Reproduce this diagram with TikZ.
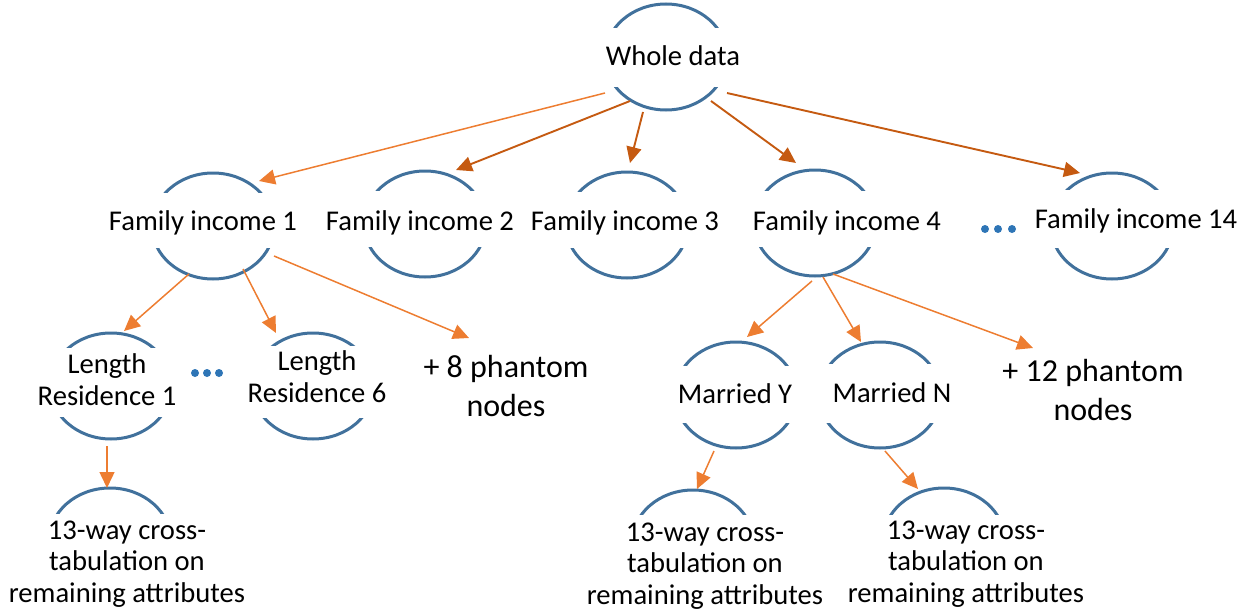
\documentclass[tikz,border=0pt]{standalone}
\usepackage{fontspec}
\setmainfont{Carlito}
\usetikzlibrary{calc,arrows.meta,shapes.geometric}
\definecolor{arcblue}{RGB}{65,113,156}
\definecolor{lightor}{RGB}{237,125,49}
\definecolor{darkor}{RGB}{197,90,17}
\definecolor{dotblue}{RGB}{46,117,182}
\tikzset{
  oval/.style={shape=ellipse, draw=none, inner sep=0pt, minimum width=122pt, minimum height=106pt},
  arcline/.style={draw=arcblue, line width=3pt},
  txt/.style={inner sep=0pt, font=\fontsize{28.6}{31.5}\selectfont, align=center, anchor=base},
  phantom/.style={inner sep=0pt, font=\fontsize{32}{39}\selectfont, align=center, anchor=base},
  lt/.style={draw=lightor, line width=1.5pt, -{Triangle[length=16pt,width=15pt]}},
  dk/.style={draw=darkor, line width=1.9pt, -{Triangle[length=16pt,width=15pt]}},
  dot/.style={fill=dotblue}
}
\newcommand\ovalarcs[3]{%
  \begin{scope}
    \clip ($(#1.center)+(-70,-60)$) rectangle ($(#1.center)+(70,-#2)$);
    \draw[arcline] (#1.center) ellipse [x radius=61, y radius=53];
  \end{scope}
  \begin{scope}
    \clip ($(#1.center)+(-70,#3)$) rectangle ($(#1.center)+(70,60)$);
    \draw[arcline] (#1.center) ellipse [x radius=61, y radius=53];
  \end{scope}}
\begin{document}
\begin{tikzpicture}[x=1pt,y=-1pt]
\useasboundingbox (0,0) rectangle (1251,613);
% oval nodes
\node[oval] (wd) at (666,57) {};
\node[oval] (f1) at (213,226) {};
\node[oval] (f2) at (425,224) {};
\node[oval] (f3) at (627,225) {};
\node[oval] (f4) at (815,223) {};
\node[oval] (f14) at (1112,226) {};
\node[oval] (l1) at (111,386) {};
\node[oval] (l6) at (313,386) {};
\node[oval] (my) at (736,395) {};
\node[oval] (mn) at (880,395) {};
\node[oval] (tl) at (110,541) {};
\node[oval] (tm) at (693,543) {};
\node[oval] (tr) at (944,541) {};
% arcs
\ovalarcs{wd}{30}{30}
\ovalarcs{f1}{34}{22}
\ovalarcs{f2}{34}{23}
\ovalarcs{f3}{34}{23}
\ovalarcs{f4}{33}{24}
\ovalarcs{f14}{37}{22}
\ovalarcs{l1}{39}{31}
\ovalarcs{l6}{41}{32}
\ovalarcs{my}{30}{28}
\ovalarcs{mn}{32}{28}
\ovalarcs{tl}{28}{70}
\ovalarcs{tm}{29}{70}
\ovalarcs{tr}{27}{70}
% texts (multi-line: anchor base = last line)
\node[txt] (wdt) at (673,65) {Whole data};
\node[txt] (f1t) at (203,230) {Family income 1};
\node[txt] (f2t) at (420,230) {Family income 2};
\node[txt] (f3t) at (625,230) {Family income 3};
\node[txt] (f4t) at (847,230) {Family income 4};
\node[txt] (f14t) at (1136,228) {Family income 14};
\node[txt] (l1t) at (107,405) {Length\\Residence 1};
\node[txt] (l6t) at (317,402) {Length\\Residence 6};
\node[phantom] (p8) at (506,416) {+ 8 phantom\\nodes};
\node[phantom] (p12) at (1093,420) {+ 12 phantom\\nodes};
\node[txt] (myt) at (735,403) {Married Y};
\node[txt] (mnt) at (892,402) {Married N};
\node[txt] (tlt) at (127,602) {13-way cross-\\tabulation on\\remaining attributes};
\node[txt] (tmt) at (705,604) {13-way cross-\\tabulation on\\remaining attributes};
\node[txt] (trt) at (966,602) {13-way cross-\\tabulation on\\remaining attributes};
% dots
\foreach \x in {195,207,219} \fill[dot] (\x,373) circle (4);
\foreach \x in {985,998,1012} \fill[dot] (\x,229) circle (4);
% connectors
\draw[lt] ($(wd)+(-61,36)$) -- ($(f1)+(46,-45)$);
\draw[dk] ($(wd)+(-36,44)$) -- ($(f2)+(31,-54)$);
\draw[dk] ($(wd)+(-23,55)$) -- ($(f3)+(3,-62)$);
\draw[dk] ($(wd)+(45,44)$) -- ($(f4)+(-19,-60)$);
\draw[dk] ($(wd)+(61,36)$) -- ($(f14)+(-32,-53)$);
\draw[lt] ($(f1)+(-24,48)$) -- ($(l1)+(13,-55)$);
\draw[lt] ($(f1)+(30,43)$) -- ($(l6)+(-37,-53)$);
\draw[lt] ($(f1)+(61,30)$) -- ($(p8.base)+(-37,-78)$);
\draw[lt] ($(f4)+(-3,58)$) -- ($(my)+(11,-58)$);
\draw[lt] ($(f4)+(8,54)$) -- ($(mn)+(-19,-53)$);
\draw[lt] ($(f4)+(18,51)$) -- ($(p12.base)+(-60,-72)$);
\draw[lt] ($(l1)+(-4,60)$) -- ($(tl)+(-3,-53)$);
\draw[lt] ($(my)+(-22,56)$) -- ($(tm)+(4,-54)$);
\draw[lt] ($(mn)+(5,56)$) -- ($(tr)+(-26,-52)$);
\end{tikzpicture}
\end{document}
